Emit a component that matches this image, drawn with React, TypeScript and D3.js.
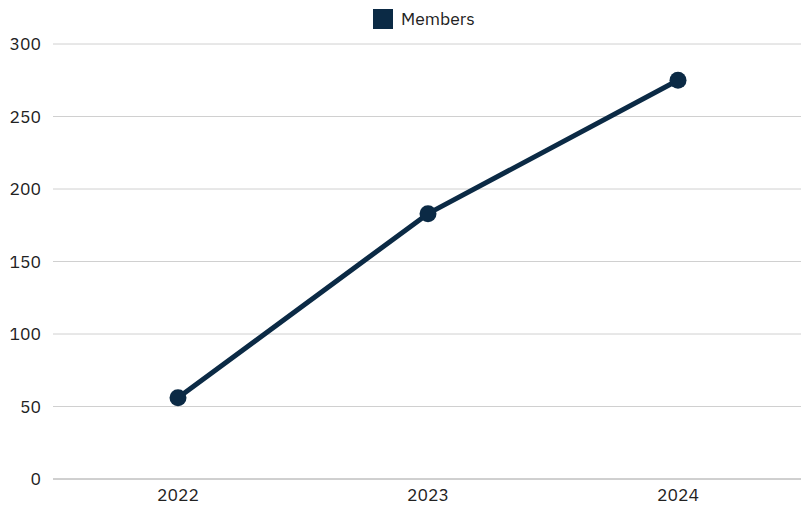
import React from 'react';
import * as d3 from 'd3';

const years = ['2022', '2023', '2024'];
const members = [56, 183, 275];
const yTicks = [0, 50, 100, 150, 200, 250, 300];

const W = 801;
const H = 508;
const margin = { top: 44, right: -2, bottom: 29, left: 53 };
const color = '#0b2a45';
const font = '"IBM Plex Sans", "Open Sans", "DejaVu Sans", sans-serif';

const App: React.FC = () => {
  const x = d3.scaleBand().domain(years).range([margin.left, W - margin.right]).padding(0);
  const y = d3.scaleLinear().domain([0, 300]).range([H - margin.bottom, margin.top]);
  const cx = (d: string) => (x(d) || 0) + x.bandwidth() / 2;

  const line = d3.line<number>()
    .x((_, i) => cx(years[i]))
    .y(d => y(d));

  return (
    <svg width={W} height={H} style={{ position: 'absolute', left: 0, top: 0, background: '#fff' }} fontFamily={font}>
      {yTicks.map(t => (
        <g key={t}>
          <line x1={margin.left} x2={W} y1={y(t)} y2={y(t)}
            stroke={t === 0 ? '#a0a0a0' : '#d0d0d0'} strokeWidth={1} />
          <text x={41} y={y(t)} dy="0.35em" textAnchor="end" fontSize={17.5} fill="#222">{t}</text>
        </g>
      ))}
      {years.map(d => (
        <text key={d} x={cx(d)} y={495} dy="0.35em" textAnchor="middle" fontSize={17.5} fill="#222">{d}</text>
      ))}
      <path d={line(members) || ''} fill="none" stroke={color} strokeWidth={5} strokeLinejoin="round" />
      {members.map((v, i) => (
        <circle key={years[i]} cx={cx(years[i])} cy={y(v)} r={8.5} fill={color} />
      ))}
      <g>
        <rect x={373} y={9} width={20} height={20} fill={color} />
        <text x={401} y={19} dy="0.35em" fontSize={17.5} fill="#222">Members</text>
      </g>
    </svg>
  );
};

export default App;
